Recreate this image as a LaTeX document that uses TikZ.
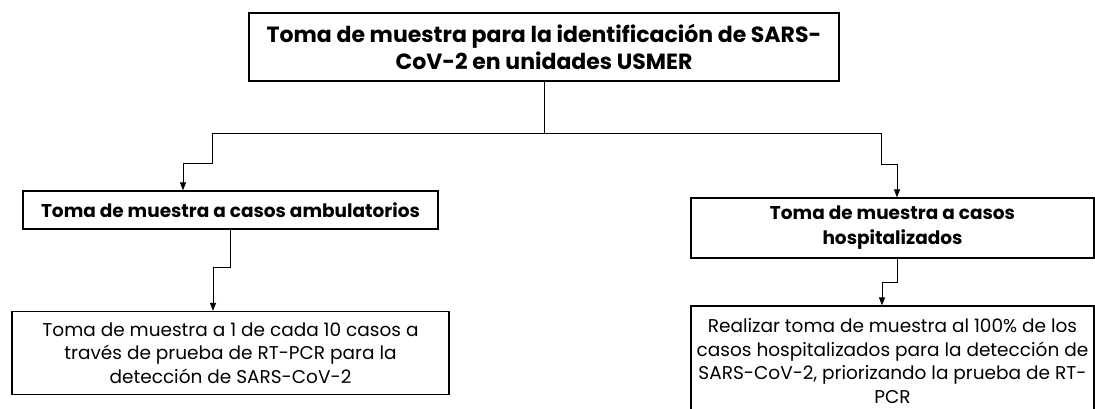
\documentclass[tikz,border=0pt]{standalone}
\usepackage{fontspec}
\setmainfont{Poppins}
\usepackage{tikz}
\usetikzlibrary{arrows.meta,positioning,calc}
\tikzstyle{caja}=[draw,line width=1.2pt,rectangle,align=center,inner sep=0pt]
\tikzstyle{titulo}=[caja,font=\bfseries\fontsize{22}{27}\selectfont]
\tikzstyle{rama}=[caja,font=\bfseries\fontsize{18.5}{25}\selectfont]
\tikzstyle{detalle}=[caja,font=\fontsize{18.5}{23.5}\selectfont]
\tikzstyle{linea}=[line width=0.9pt]
\tikzstyle{flecha}=[linea,-{Triangle[length=8pt,width=6pt]}]

\begin{document}
\begin{tikzpicture}[x=1pt,y=-1pt]
      \useasboundingbox (0,0) rectangle (1095,408);
      \node[titulo,minimum width=590pt,minimum height=68pt] at (544,47) (top) {Toma de muestra para la identificación de SARS-\\CoV-2 en unidades USMER};
      \node[rama,minimum width=415pt,minimum height=38pt] at (230.5,210) (amb) {Toma de muestra a casos ambulatorios};
      \node[rama,minimum width=403pt,minimum height=60pt] at (892.5,228) (hosp) {Toma de muestra a casos\\hospitalizados};
      \node[detalle,minimum width=437pt,minimum height=83pt] at (230.5,353) (amb3) {Toma de muestra a 1 de cada 10 casos a\\través de prueba de RT-PCR para la\\detección de SARS-CoV-2};
      \node[detalle,minimum width=403pt,minimum height=110pt] at (892.5,361) (hosp3) {Realizar toma de muestra al 100\% de los\\casos hospitalizados para la detección de\\SARS-CoV-2, priorizando la prueba de RT-\\PCR};
      \coordinate (bl) at (212,133);
      \coordinate (br) at (881,133);
      \coordinate (bl2) at (183,163);
      \coordinate (br2) at (897,164);
      \coordinate (al) at (213,267);
      \coordinate (hl) at (882,282);
      \draw[linea] (top.south) -- (top.south |- bl);
      \draw[linea] (bl) -- (br);
      \draw[flecha] (bl) |- (bl2) -- (bl2 |- amb.north);
      \draw[flecha] (br) |- (br2) -- (br2 |- hosp.north);
      \draw[flecha] (amb.south) |- (al) -- (al |- amb3.north);
      \draw[flecha] (hosp.south -| br2) |- (hl) -- (hl |- hosp3.north);
\end{tikzpicture}
\end{document}
